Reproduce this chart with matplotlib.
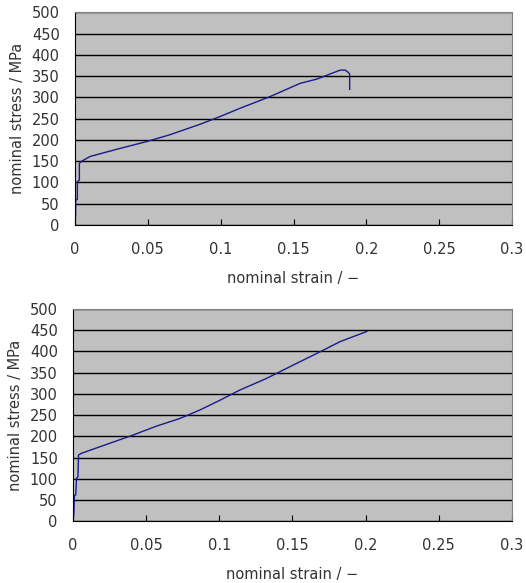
import matplotlib.pyplot as plt

# test 1 (upper chart): nominal strain / nominal stress (MPa)
strain_1 = [0, 0.0004, 0.0005, 0.0016, 0.0016, 0.0030, 0.0030, 0.0046, 0.0103, 0.0286,
            0.049, 0.065, 0.086, 0.0996, 0.113, 0.134, 0.1546, 0.166, 0.182, 0.1855,
            0.1878, 0.1885, 0.1885]
stress_1 = [0, 23, 59, 60, 102, 106, 145, 150, 161, 178,
            196, 212, 237, 255, 274, 302, 333, 343, 364, 364,
            358, 355, 319]

# test 2 (lower chart)
strain_2 = [0, 0.0005, 0.0009, 0.0018, 0.0023, 0.0033, 0.0037, 0.0057, 0.018, 0.041,
            0.057, 0.073, 0.0867, 0.1004, 0.114, 0.132, 0.1506, 0.1688, 0.1825, 0.2008]
stress_2 = [0, 18, 61, 62, 101, 104, 156, 160, 175, 203,
            224, 242, 262, 285, 309, 336, 368, 399, 423, 447]

xticks = [0, 0.05, 0.1, 0.15, 0.2, 0.25, 0.3]
xticklabels = ['0', '0.05', '0.1', '0.15', '0.2', '0.25', '0.3']
yticks = list(range(0, 501, 50))

fig = plt.figure(figsize=(5.26, 5.83), dpi=100)
ax1 = fig.add_axes([0.1426, 0.614, 0.831, 0.365])
ax2 = fig.add_axes([0.139, 0.106, 0.834, 0.364])

for ax, x, y in [(ax1, strain_1, stress_1), (ax2, strain_2, stress_2)]:
    ax.set_facecolor('#c0c0c0')
    ax.plot(x, y, color='#1a1a8c', linewidth=1.0)
    ax.set_xlim(0, 0.3)
    ax.set_ylim(0, 500)
    ax.set_xticks(xticks)
    ax.set_xticklabels(xticklabels)
    ax.set_yticks(yticks)
    ax.grid(axis='y', color='black', linewidth=1.0)
    ax.set_axisbelow(True)
    ax.tick_params(axis='x', direction='in', length=4, pad=12, labelsize=10.5, colors='black', labelcolor='#333333')
    ax.tick_params(axis='y', length=0, pad=11, labelsize=10.5, labelcolor='#333333')
    for s in ['left', 'bottom']:
        ax.spines[s].set_color('black')
    for s in ['top', 'right']:
        ax.spines[s].set_color('#808080')
    ax.set_xlabel('nominal strain / \u2212', fontsize=10.5, color='#333333', labelpad=10)
    ax.set_ylabel('nominal stress / MPa', fontsize=10.5, color='#333333', labelpad=5)

plt.savefig('out.png', dpi=100)
